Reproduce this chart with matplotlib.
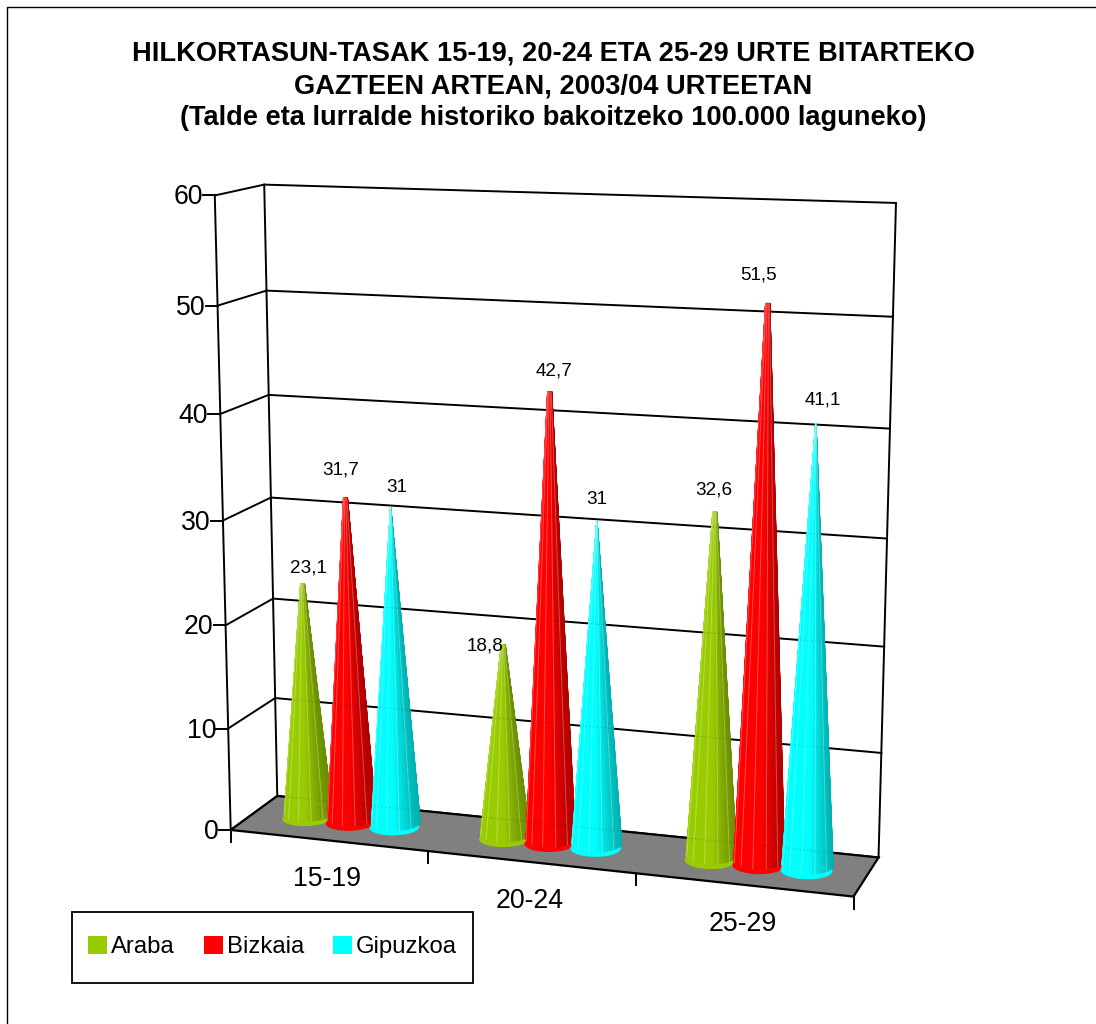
import numpy as np
import matplotlib
matplotlib.use('Agg')
import matplotlib.pyplot as plt
from matplotlib.patches import Patch, Polygon, Rectangle

plt.rcParams['font.family'] = ['Liberation Sans', 'DejaVu Sans']

categories = ['15-19', '20-24', '25-29']
series = ['Araba', 'Bizkaia', 'Gipuzkoa']
araba = [23.1, 18.8, 32.6]
bizkaia = [31.7, 42.7, 51.5]
gipuzkoa = [31, 31, 41.1]
value_labels = [['23,1', '18,8', '32,6'], ['31,7', '42,7', '51,5'], ['31', '31', '41,1']]
y_ticks = [0, 10, 20, 30, 40, 50, 60]
colors = ['#99CC00', '#FF0000', '#00FFFF']
title = ('HILKORTASUN-TASAK 15-19, 20-24 ETA 25-29 URTE BITARTEKO\n'
         'GAZTEEN ARTEAN, 2003/04 URTEETAN\n'
         '(Talde eta lurralde historiko bakoitzeko 100.000 laguneko)')

YMAX = 60.0
spacing = 0.225     # distance between cones of a group, in category widths
rad_x = 0.039       # base radius along the category axis
rad_d = 0.22        # base radius along the depth axis
n_facets = 48

# camera of the 3D box: (x, depth, value/YMAX) -> picture pixels
box = np.array([[0, 0, 0], [0, 1, 0], [1, 1, 0], [1, 0, 0],
                [0, 0, 1], [0, 1, 1], [1, 1, 1]], dtype=float)
pix = np.array([[231, 830], [277, 796], [879, 857], [853, 897],
                [215, 195], [264, 185], [896, 203]], dtype=float)
A, b = [], []
for (X, Y, Z), (u, v) in zip(box, pix):
    A.append([X, Y, Z, 1, 0, 0, 0, 0, -u*X, -u*Y, -u*Z])
    b.append(u)
    A.append([0, 0, 0, 0, X, Y, Z, 1, -v*X, -v*Y, -v*Z])
    b.append(v)
cam = np.linalg.lstsq(np.array(A), np.array(b), rcond=None)[0]
cam = np.append(cam, 1.0).reshape(3, 4)


def project(x, d, val):
    x, d, val = np.broadcast_arrays(x, d, np.asarray(val, dtype=float)/YMAX)
    pts = cam @ np.stack([x, d, val, np.ones_like(x, dtype=float)])
    return pts[0]/pts[2], pts[1]/pts[2]


def shade(color, f):
    rgb = np.array(matplotlib.colors.to_rgb(color))
    return tuple(np.clip(rgb*f, 0, 1))


def draw_cone(ax, xc, value, color, tip, z):
    th = np.linspace(0, 2*np.pi, n_facets+1)
    # rim of the base, seen as a thin bright crescent
    u, v = project(xc + rad_x*np.cos(th), 0.5 + rad_d*np.sin(th), 0)
    ax.add_patch(Polygon(np.c_[u, v], fc=color, ec='none', zorder=z))
    u, v = project(xc + rad_x*np.cos(th), 0.535 + rad_d*np.sin(th), 0.35)
    tu, tv = project(xc + tip*rad_x*np.cos(th), 0.5 + tip*rad_d*np.sin(th), value)
    # back facets are hidden by the front ones, so paint back to front
    order = sorted(range(n_facets), key=lambda i: np.sin(th[i]), reverse=True)
    for i in order:
        c = np.cos(th[i])
        f = 1.0 if c < 0.2 else 1.0 - 0.3*(c-0.2)/0.8
        quad = [[u[i], v[i]], [u[i+1], v[i+1]], [tu[i+1], tv[i+1]], [tu[i], tv[i]]]
        ax.add_patch(Polygon(quad, fc=shade(color, f), ec=shade(color, f), lw=0.3, zorder=z))
        if i % 4 == 0 and np.sin(th[i]) < 0:
            ax.plot([u[i], tu[i]], [v[i], tv[i]], color='white', alpha=0.3, lw=0.7, zorder=z+0.1)


fig = plt.figure(figsize=(10.96, 10.24), dpi=100)
ax = fig.add_axes([0, 0, 1, 1])
ax.set_xlim(0, 1096)
ax.set_ylim(1024, 0)
ax.axis('off')

# frame of the chart area
ax.plot([7, 7, 1096], [1024, 7, 7], color='black', lw=1.0, solid_capstyle='butt')

ax.text(553, 86, title, ha='center', va='center', fontsize=19.6, fontweight='bold',
        linespacing=1.32, color='black')

# floor
u, v = project([0, 0, 1, 1], [0, 1, 1, 0], 0)
ax.add_patch(Polygon(np.c_[u, v], fc='#808080', ec='black', lw=1.6, zorder=1))

# walls with grid lines
for g in y_ticks:
    u, v = project([0, 0, 1], [0, 1, 1], g)
    ax.plot(u, v, color='black', lw=1.4, zorder=0.5)
    # they show faintly through the cones
    ax.plot(u[1:], v[1:], color='black', alpha=0.2, lw=0.9, ls=(0, (1, 2)), zorder=90)
    fx, fy = project(0, 0, g)
    ax.plot([fx-12, fx], [fy, fy], color='black', lw=1.4, zorder=0.5)
    ax.text(fx-12, fy+2, str(g), ha='right', va='center', fontsize=19.2, color='black')
for x, d in [(0, 0), (0, 1), (1, 1)]:
    u, v = project([x, x], [d, d], [0, YMAX])
    ax.plot(u, v, color='black', lw=1.4, zorder=0.5)

# category axis ticks and labels
for i in range(len(categories)+1):
    fx, fy = project(i/3, 0, 0)
    ax.plot([fx, fx], [fy, fy+12], color='black', lw=1.4, zorder=0.5)
for i, cat in enumerate(categories):
    fx, fy = project((i+0.5)/3, 0, 0)
    ax.text(fx-1, fy+39, cat, ha='center', va='center', fontsize=19.2, color='black')

# cones, left to right
values = [araba, bizkaia, gipuzkoa]
tips = [0.09, 0.09, 0.02]
label_off = [[(6, -16), (-18, 1), (-1, -22)],
             [(-5, -28), (4, -21), (-9, -28)],
             [(6, -21), (0, -22), (7, -24)]]
z = 2
for c in range(len(categories)):
    for s in range(len(series)):
        xc = (c + 0.5 + (s-1)*spacing)/3
        draw_cone(ax, xc, values[s][c], colors[s], tips[s], z)
        z += 1
        tx, ty = project(xc, 0.5, values[s][c])
        dx, dy = label_off[s][c]
        ax.text(tx+dx, ty+dy, value_labels[s][c], ha='center', va='center', fontsize=13.6,
                color='black', zorder=100)

ax.add_patch(Rectangle((72, 912), 401, 71, fc='white', ec='black', lw=1.3, zorder=150))
handles = [Patch(fc=col, ec='none', label=name) for col, name in zip(colors, series)]
leg = ax.legend(handles=handles, ncol=3, loc='center left', bbox_to_anchor=(88/1096, 1-947/1024),
                bbox_transform=fig.transFigure, fontsize=17.2, frameon=False, borderaxespad=0,
                borderpad=0, handlelength=0.8, handleheight=0.8, handletextpad=0.17,
                columnspacing=1.2)
leg.set_zorder(200)

fig.savefig('out.png', dpi=100)
